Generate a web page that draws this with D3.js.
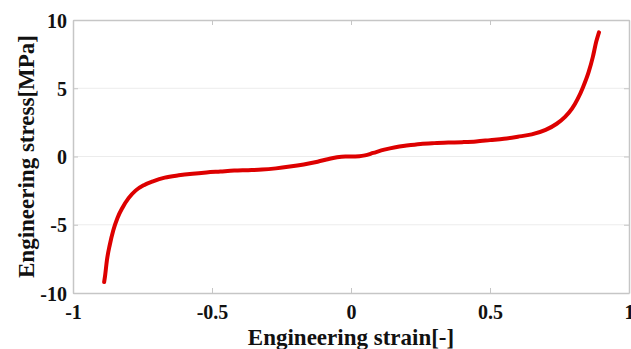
<!DOCTYPE html>
<html>
<head>
<meta charset="utf-8">
<script src="https://cdn.jsdelivr.net/npm/d3@7"></script>
<style>
  html, body { margin: 0; padding: 0; background: #fff; }
  svg { display: block; }
  .tick text { font-family: "Liberation Serif", "Times New Roman", serif; font-weight: bold; }
</style>
</head>
<body>
<svg id="chart" width="631" height="349"></svg>
<script>
// Engineering stress–strain response (tension positive, compression negative)
const strain = [-0.888, -0.885, -0.878, -0.868, -0.855, -0.84, -0.822, -0.80, -0.775, -0.745,
  -0.71, -0.67, -0.62, -0.57, -0.52, -0.47, -0.42, -0.37, -0.32, -0.27,
  -0.22, -0.17, -0.12, -0.08, -0.05, -0.02, 0.0, 0.03, 0.05, 0.08,
  0.12, 0.16, 0.20, 0.25, 0.30, 0.35, 0.40, 0.45, 0.50, 0.55,
  0.60, 0.65, 0.70, 0.74, 0.77, 0.795, 0.815, 0.835, 0.855, 0.87,
  0.882, 0.892];
const stress = [-9.2, -8.8, -7.6, -6.5, -5.4, -4.5, -3.75, -3.05, -2.5, -2.1,
  -1.8, -1.55, -1.38, -1.26, -1.17, -1.1, -1.03, -1.0, -0.96, -0.87,
  -0.74, -0.58, -0.38, -0.18, -0.05, 0.0, 0.0, 0.02, 0.08, 0.26,
  0.5, 0.68, 0.8, 0.92, 0.98, 1.02, 1.05, 1.1, 1.2, 1.3,
  1.45, 1.62, 1.95, 2.4, 2.9, 3.5, 4.2, 5.1, 6.2, 7.3,
  8.4, 9.1];
const xTicks = [-1, -0.5, 0, 0.5, 1];
const yTicks = [-10, -5, 0, 5, 10];
const xTitle = "Engineering strain[-]";
const yTitle = "Engineering stress[MPa]";

const svg = d3.select("#chart");
const m = { left: 73, right: 2, top: 20, bottom: 56 };
const W = 631, H = 349;
const x = d3.scaleLinear().domain([-1, 1]).range([m.left, W - m.right]);
const y = d3.scaleLinear().domain([-10, 10]).range([H - m.bottom, m.top]);

// faint horizontal grid
svg.append("g").selectAll("line")
  .data(yTicks.filter(v => v > -10 && v < 10))
  .join("line")
  .attr("x1", x(-1)).attr("x2", x(1))
  .attr("y1", d => y(d)).attr("y2", d => y(d))
  .attr("stroke", "#ececec").attr("stroke-width", 1);

const frameColor = "#c6c6c6";
const fmt = d => String(d); // plain hyphen for negatives

// bottom axis
const gx = svg.append("g").attr("transform", `translate(0,${y(-10)})`)
  .call(d3.axisBottom(x).tickValues(xTicks).tickFormat(fmt).tickSizeInner(-5).tickSizeOuter(0).tickPadding(12));
// top axis (ticks only)
const gxt = svg.append("g").attr("transform", `translate(0,${y(10)})`)
  .call(d3.axisTop(x).tickValues(xTicks).tickFormat("").tickSizeInner(-5).tickSizeOuter(0));
// left axis
const gy = svg.append("g").attr("transform", `translate(${x(-1)},0)`)
  .call(d3.axisLeft(y).tickValues(yTicks).tickFormat(fmt).tickSizeInner(-5).tickSizeOuter(0).tickPadding(6));
// right axis (ticks only)
const gyr = svg.append("g").attr("transform", `translate(${x(1)},0)`)
  .call(d3.axisRight(y).tickValues(yTicks).tickFormat("").tickSizeInner(-5).tickSizeOuter(0));

[gx, gxt, gy, gyr].forEach(g => {
  g.selectAll(".domain").attr("stroke", frameColor).attr("stroke-width", 1.5);
  g.selectAll(".tick line").attr("stroke", frameColor);
});
gx.selectAll(".tick text").attr("font-size", 20).attr("fill", "#111");
gy.selectAll(".tick text").attr("font-size", 20).attr("fill", "#111").attr("dy", "0.35em");

// stress–strain curve
const line = d3.line()
  .x((d, i) => x(strain[i]))
  .y(d => y(d))
  .curve(d3.curveMonotoneX);
svg.append("path")
  .datum(stress)
  .attr("d", line)
  .attr("fill", "none")
  .attr("stroke", "#dd0000")
  .attr("stroke-width", 4)
  .attr("stroke-linecap", "round")
  .attr("stroke-linejoin", "round");

// axis titles
svg.append("text")
  .attr("x", x(0)).attr("y", 345)
  .attr("text-anchor", "middle")
  .attr("font-family", "Liberation Serif, Times New Roman, serif")
  .attr("font-weight", "bold").attr("font-size", 23).attr("fill", "#111")
  .text(xTitle);
svg.append("text")
  .attr("transform", `translate(34,${y(0)}) rotate(-90)`)
  .attr("text-anchor", "middle")
  .attr("font-family", "Liberation Serif, Times New Roman, serif")
  .attr("font-weight", "bold").attr("font-size", 23).attr("fill", "#111")
  .text(yTitle);
</script>
</body>
</html>
